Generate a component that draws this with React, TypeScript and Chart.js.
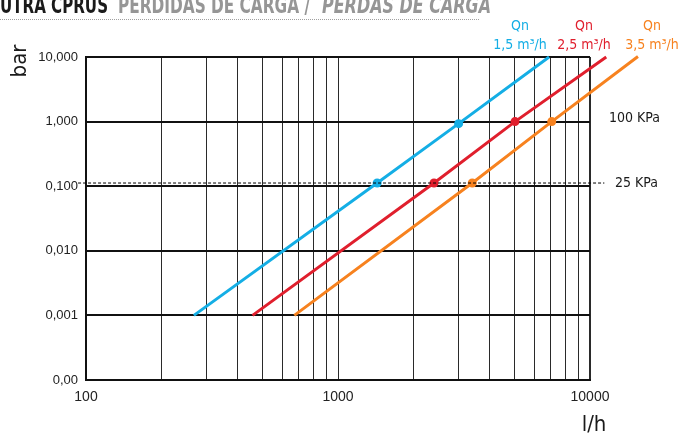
import React, { useEffect, useRef } from "react";
import { Chart, registerables } from "chart.js";

Chart.register(...registerables);

// ---------- data ----------
const xGridValues = [
  100, 200, 300, 400, 500, 600, 700, 800, 900,
  1000, 2000, 3000, 4000, 5000, 6000, 7000, 8000, 9000, 10000,
];
const xTickLabels: Record<number, string> = { 100: "100", 1000: "1000", 10000: "10000" };
const yTickValues = [0.0001, 0.001, 0.01, 0.1, 1, 10];
const yTickLabels = ["0,00", "0,001", "0,010", "0,100", "1,000", "10,000"];

const seriesNames = ["1,5 m³/h", "2,5 m³/h", "3,5 m³/h"];
const seriesColors = ["#14aee5", "#e01f2d", "#f7821f"];

const flow15 = [268, 1430, 3010, 6880];
const loss15 = [0.001, 0.112, 0.93, 10];
const flow25 = [458, 2404, 5040, 11600];
const loss25 = [0.001, 0.112, 1.0, 10];
const flow35 = [671, 3410, 7050, 15500];
const loss35 = [0.001, 0.112, 1.0, 10.2];

const refLineFlow = [93, 11400];
const refLineValue = 0.112; // 25 KPa
const refLabels = [
  { text: "100 KPa", value: 1 },
  { text: "25 KPa", value: refLineValue },
];

const titleBold = "UTRA CPRUS";
const titleGray = "PERDIDAS DE CARGA /";
const titleItalic = "PERDAS DE CARGA";

const NARROW = '"Liberation Sans Narrow", "DejaVu Sans Condensed", sans-serif';
const ARIAL = '"Liberation Sans", Arial, sans-serif';

function pts(xs: number[], ys: number[]) {
  return xs.map((x, i) => ({ x, y: ys[i] }));
}

const annotPlugin = {
  id: "annot",
  afterDraw(chart: any) {
    const { ctx, scales } = chart;
    const x = scales.x;
    const y = scales.y;
    ctx.save();
    // title (cut at top)
    ctx.textAlign = "left";
    ctx.textBaseline = "alphabetic";
    ctx.font = `bold 23px ${NARROW}`;
    ctx.fillStyle = "#1a1a1a";
    ctx.fillText(titleBold, 0, 12.5, 108);
    ctx.fillStyle = "#969696";
    ctx.fillText(titleGray, 118, 12.5, 192);
    ctx.font = `italic bold 23px ${NARROW}`;
    ctx.fillText(titleItalic, 322, 12.5, 169);
    // dotted rule
    ctx.strokeStyle = "#a0a0a0";
    ctx.lineWidth = 1;
    ctx.setLineDash([1, 1]);
    ctx.beginPath();
    ctx.moveTo(0, 19.5);
    ctx.lineTo(480, 19.5);
    ctx.stroke();
    ctx.setLineDash([]);

    // legend labels
    const centers = [520, 584, 652];
    ctx.font = `14px ${NARROW}`;
    ctx.textAlign = "center";
    ctx.textBaseline = "middle";
    seriesNames.forEach((n, i) => {
      ctx.fillStyle = seriesColors[i];
      ctx.fillText("Qn", centers[i], 26);
      ctx.fillText(n, centers[i], 45, 54);
    });

    // KPa labels
    ctx.fillStyle = "#1a1a1a";
    ctx.textAlign = "left";
    const xr = x.getPixelForValue(10000);
    refLabels.forEach((r, i) => {
      ctx.fillText(r.text, xr + (i === 0 ? 19 : 25), y.getPixelForValue(r.value) - (i === 0 ? 3 : 0));
    });

    // axis titles
    ctx.fillStyle = "#1a1a1a";
    ctx.font = `22px ${NARROW}`;
    ctx.textAlign = "center";
    ctx.fillText("l/h", 594, 425);
    ctx.save();
    ctx.translate(20, 61);
    ctx.rotate(-Math.PI / 2);
    ctx.fillText("bar", 0, 0);
    ctx.restore();

    ctx.restore();
  },
};

export default function App() {
  const ref = useRef<HTMLCanvasElement | null>(null);
  useEffect(() => {
    if (!ref.current) return;
    const lineDs = (data: any[], color: string) => ({
      type: "line" as const,
      data,
      borderColor: color,
      backgroundColor: color,
      borderWidth: 3,
      pointRadius: data.map((_, i) => (i === 0 || i === data.length - 1 ? 0 : 4.5)),
      pointHoverRadius: 0,
      pointBorderWidth: 0,
      tension: 0,
      clip: false as any,
    });
    const chart = new Chart(ref.current, {
      type: "line",
      data: {
        datasets: [
          {
            type: "line",
            data: pts(refLineFlow, [refLineValue, refLineValue]),
            borderColor: "#000",
            borderWidth: 1,
            borderDash: [3, 2],
            pointRadius: 0,
            clip: false as any,
          } as any,
          lineDs(pts(flow15, loss15), seriesColors[0]),
          lineDs(pts(flow25, loss25), seriesColors[1]),
          lineDs(pts(flow35, loss35), seriesColors[2]),
        ],
      },
      options: {
        animation: false,
        responsive: false,
        events: [],
        layout: { padding: { top: 57, right: 104, left: 0, bottom: 0 } },
        plugins: { legend: { display: false }, tooltip: { enabled: false } },
        scales: {
          x: {
            type: "logarithmic",
            min: 100,
            max: 10000,
            afterBuildTicks: (s: any) => {
              s.ticks = xGridValues.map((v) => ({ value: v }));
            },
            afterFit: (s: any) => {
              s.height = 57;
            },
            ticks: {
              autoSkip: false,
              maxRotation: 0,
              padding: 9,
              color: "#222",
              font: { family: ARIAL, size: 14 },
              callback: (v: any) => xTickLabels[Number(v)] ?? "",
            },
            grid: {
              drawTicks: false,
              color: "#2a2a2a",
              lineWidth: (c: any) => (c.tick && c.tick.value === 10000 ? 2 : 1),
            },
            border: { display: true, color: "#111", width: 2 },
          },
          y: {
            type: "logarithmic",
            min: 0.0001,
            max: 10,
            afterBuildTicks: (s: any) => {
              s.ticks = yTickValues.map((v) => ({ value: v }));
            },
            afterFit: (s: any) => {
              s.width = 86;
            },
            ticks: {
              autoSkip: false,
              padding: 8,
              color: "#222",
              font: { family: ARIAL, size: 13 },
              callback: (_v: any, i: number) => yTickLabels[i],
            },
            grid: { drawTicks: false, color: "#111", lineWidth: 2 },
            border: { display: true, color: "#111", width: 2 },
          },
        },
      } as any,
      plugins: [annotPlugin],
    });
    return () => chart.destroy();
  }, []);
  return (
    <div style={{ position: "absolute", left: 0, top: 0, width: 694, height: 437, background: "#fff" }}>
      <canvas ref={ref} width={694} height={437} style={{ display: "block", width: 694, height: 437 }} />
    </div>
  );
}
